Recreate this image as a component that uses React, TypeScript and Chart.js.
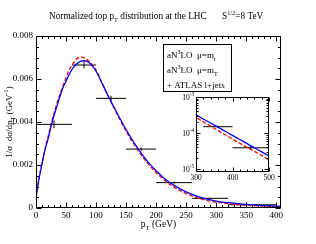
import React, { useEffect, useRef } from 'react';
import { Chart, registerables } from 'chart.js';
Chart.register(...registerables);

// ---------- data ----------
const pT = [0, 5, 10, 15, 20, 25, 30, 35, 40, 45, 50, 55, 60, 65, 70, 75, 80, 85, 90, 95, 100,
  110, 120, 130, 140, 150, 160, 170, 180, 190, 200, 210, 220, 230, 240, 250, 260, 270, 280, 290, 300,
  320, 340, 360, 380, 400, 420, 440, 460, 480, 500];
const blueMt = [0.0005, 0.00135, 0.00205, 0.0027, 0.0032, 0.0038, 0.0043, 0.00475, 0.0052, 0.0056, 0.0059,
  0.0062, 0.00645, 0.00663, 0.00675, 0.00683, 0.00685, 0.00682, 0.00672, 0.00656, 0.00636,
  0.0058, 0.00522, 0.00468, 0.00415, 0.00365, 0.00318, 0.00275, 0.00237, 0.00203, 0.00173,
  0.00147, 0.00124, 0.00105, 0.00089, 0.00075, 0.00063, 0.00053, 0.00045, 0.00038, 0.00032,
  0.000246, 0.00019, 0.000146, 0.000112, 0.000086, 0.000066, 0.000051, 0.000039, 0.00003, 0.000023];
const redMT = [0.0005, 0.0014, 0.0021, 0.00275, 0.0033, 0.0039, 0.0044, 0.0049, 0.0053, 0.0057, 0.00605,
  0.0064, 0.00665, 0.00685, 0.00698, 0.00702, 0.00698, 0.0069, 0.00678, 0.00662, 0.00642,
  0.00582, 0.00522, 0.00465, 0.0041, 0.00358, 0.0031, 0.00267, 0.00229, 0.00195, 0.00165,
  0.00139, 0.00116, 0.00097, 0.00081, 0.00067, 0.00056, 0.00046, 0.000385, 0.00032, 0.00027,
  0.000205, 0.000155, 0.000118, 0.00009, 0.000068, 0.000052, 0.00004, 0.000031, 0.000024, 0.000018];

const binLo = [0, 60, 100, 150, 200, 260, 320, 400];
const binHi = [60, 100, 150, 200, 260, 320, 400, 500];
const atlasVal = [0.00389, 0.00665, 0.0051, 0.00274, 0.00118, 0.00045, 0.00015, 0.000039];
const atlasErr = [0.00018, 0.00016, 0.00012, 0.00008, 0.00005, 0.00003, 0.00001, 0.000004];

const xTicks = [0, 50, 100, 150, 200, 250, 300, 350, 400];
const yTicks = [0, 0.002, 0.004, 0.006, 0.008];
const insetXTicks = [300, 400, 500];
const insetYTicks = [1e-3, 1e-4, 1e-5];
const insetYLabels = ['-3', '-4', '-5'];

const legendLabels = ['aN3LO μ=mt', 'aN3LO μ=mT', '+ ATLAS l+jets'];

// ---------- helpers ----------
const FONT = '"Liberation Serif", "Times New Roman", serif';
type Part = { t: string; k?: 'sub' | 'sup' };

function partFont(size: number, k?: string) {
  return `${k ? size * 0.68 : size}px ${FONT}`;
}
function richWidth(ctx: CanvasRenderingContext2D, parts: Part[], size: number) {
  let w = 0;
  for (const p of parts) { ctx.font = partFont(size, p.k); w += ctx.measureText(p.t).width; }
  return w;
}
function drawRich(ctx: CanvasRenderingContext2D, parts: Part[], x: number, y: number, size: number, align: 'left' | 'center' | 'right' = 'left') {
  const w = richWidth(ctx, parts, size);
  let cx = align === 'left' ? x : align === 'center' ? x - w / 2 : x - w;
  ctx.textBaseline = 'alphabetic';
  ctx.textAlign = 'left';
  for (const p of parts) {
    ctx.font = partFont(size, p.k);
    const dy = p.k === 'sub' ? size * 0.28 : p.k === 'sup' ? -size * 0.42 : 0;
    ctx.fillText(p.t, cx, y + dy);
    cx += ctx.measureText(p.t).width;
  }
}

function hBars(lo: number[], hi: number[], v: number[]) {
  const out: any[] = [];
  lo.forEach((l, i) => { out.push({ x: l, y: v[i] }, { x: hi[i], y: v[i] }, { x: hi[i], y: null }); });
  return out;
}
function vBars(lo: number[], hi: number[], v: number[], e: number[]) {
  const out: any[] = [];
  lo.forEach((l, i) => {
    const c = (l + hi[i]) / 2;
    out.push({ x: c, y: v[i] - e[i] }, { x: c, y: v[i] + e[i] }, { x: c, y: null });
  });
  return out;
}

function curveDatasets() {
  return [
    {
      data: pT.map((x, i) => ({ x, y: blueMt[i] })), borderColor: '#0000ff', borderWidth: 1.3,
      pointRadius: 0, fill: false, cubicInterpolationMode: 'monotone' as const,
    },
    {
      data: pT.map((x, i) => ({ x, y: redMT[i] })), borderColor: '#ff0000', borderWidth: 1.3,
      borderDash: [4, 2], pointRadius: 0, fill: false, cubicInterpolationMode: 'monotone' as const,
    },
  ];
}

const W = 316, H = 244;

export default function App() {
  const mainRef = useRef<HTMLCanvasElement>(null);
  const insetRef = useRef<HTMLCanvasElement>(null);

  useEffect(() => {
    const mainPlugin = {
      id: 'mainDecor',
      afterDraw(chart: any) {
        const ctx: CanvasRenderingContext2D = chart.ctx;
        const ca = chart.chartArea;
        const xs = chart.scales.x, ys = chart.scales.y;
        ctx.save();
        ctx.strokeStyle = '#000';
        ctx.lineWidth = 1;
        const L = Math.round(ca.left) + 0.5, R = Math.round(ca.right) - 0.5;
        const T = Math.round(ca.top) + 0.5, B = Math.round(ca.bottom) - 0.5;
        ctx.strokeRect(L, T, R - L, B - T);
        ctx.beginPath();
        for (let v = 0; v <= 400; v += 10) {
          const px = Math.round(xs.getPixelForValue(v)) + 0.5;
          const len = v % 50 === 0 ? 5 : 2.5;
          ctx.moveTo(px, B); ctx.lineTo(px, B - len);
          ctx.moveTo(px, T); ctx.lineTo(px, T + len);
        }
        for (let k = 0; k <= 16; k++) {
          const v = k * 0.0005;
          const py = Math.round(ys.getPixelForValue(v)) + 0.5;
          const len = k % 4 === 0 ? 5 : 2.5;
          ctx.moveTo(L, py); ctx.lineTo(L + len, py);
          ctx.moveTo(R, py); ctx.lineTo(R - len, py);
        }
        ctx.stroke();

        ctx.fillStyle = '#000';
        drawRich(ctx, [{ t: 'Normalized top p' }, { t: 'T', k: 'sub' }, { t: ' distribution at the LHC' }], 49, 19, 9.3, 'left');
        drawRich(ctx, [{ t: 'S' }, { t: '1/2', k: 'sup' }, { t: '=8 TeV' }], 222, 19, 9.3, 'left');
        drawRich(ctx, [{ t: 'p' }, { t: 'T', k: 'sub' }, { t: ' (GeV)' }], (ca.left + ca.right) / 2, 227, 9.5, 'center');
        ctx.save();
        ctx.translate(12, (ca.top + ca.bottom) / 2);
        ctx.rotate(-Math.PI / 2);
        drawRich(ctx, [{ t: '1/σ  dσ/dp' }, { t: 'T', k: 'sub' }, { t: ' (GeV' }, { t: '-1', k: 'sup' }, { t: ')' }], 0, 0, 9, 'center');
        ctx.restore();

        ctx.strokeRect(163.5, 44.5, 68, 47);
        const rows: Part[][] = [
          [{ t: 'aN' }, { t: '3', k: 'sup' }, { t: 'LO  μ=m' }, { t: 't', k: 'sub' }],
          [{ t: 'aN' }, { t: '3', k: 'sup' }, { t: 'LO  μ=m' }, { t: 'T', k: 'sub' }],
          [{ t: legendLabels[2] }],
        ];
        rows.forEach((r, i) => drawRich(ctx, r, 167, 58 + i * 15, 9, 'left'));
        ctx.restore();
      },
    };

    const main = new Chart(mainRef.current!, {
      type: 'line',
      data: {
        datasets: [
          ...curveDatasets(),
          { data: hBars(binLo, binHi, atlasVal), borderColor: '#000', borderWidth: 1, pointRadius: 0, spanGaps: false, tension: 0 },
          { data: vBars(binLo, binHi, atlasVal, atlasErr), borderColor: '#000', borderWidth: 1, pointRadius: 0, spanGaps: false, tension: 0 },
        ] as any,
      },
      options: {
        responsive: false,
        animation: false,
        devicePixelRatio: 1,
        events: [],
        layout: { padding: { left: 0, top: 36, right: 35, bottom: 0 } },
        plugins: { legend: { display: false }, tooltip: { enabled: false }, title: { display: false } },
        scales: {
          x: {
            type: 'linear', min: 0, max: 408,
            afterBuildTicks: (s: any) => { s.ticks = xTicks.map((v) => ({ value: v })); },
            afterFit: (s: any) => { s.height = 36; },
            grid: { display: false, drawTicks: false, tickLength: 0 }, border: { display: false },
            ticks: { color: '#000', font: { family: FONT, size: 9 }, padding: 2, maxRotation: 0, autoSkip: false },
          },
          y: {
            type: 'linear', min: 0, max: 0.008,
            afterBuildTicks: (s: any) => { s.ticks = yTicks.map((v) => ({ value: v })); },
            afterFit: (s: any) => { s.width = 36; },
            grid: { display: false, drawTicks: false, tickLength: 0 }, border: { display: false },
            ticks: {
              color: '#000', font: { family: FONT, size: 9 }, padding: 3, autoSkip: false,
              callback: (v: any) => (v === 0 ? '0' : Number(v).toFixed(3)),
            },
          },
        },
      } as any,
      plugins: [mainPlugin],
    });

    const insetPlugin = {
      id: 'insetDecor',
      afterDraw(chart: any) {
        const ctx: CanvasRenderingContext2D = chart.ctx;
        const ca = chart.chartArea;
        const xs = chart.scales.x, ys = chart.scales.y;
        ctx.save();
        ctx.strokeStyle = '#000';
        ctx.lineWidth = 1;
        const L = Math.round(ca.left) + 0.5, R = Math.round(ca.right) - 0.5;
        const T = Math.round(ca.top) + 0.5, B = Math.round(ca.bottom) - 0.5;
        ctx.strokeRect(L, T, R - L, B - T);
        ctx.beginPath();
        for (let v = 300; v <= 500; v += 20) {
          const px = Math.round(xs.getPixelForValue(v)) + 0.5;
          const len = v % 100 === 0 ? 4 : 2;
          ctx.moveTo(px, B); ctx.lineTo(px, B - len);
          ctx.moveTo(px, T); ctx.lineTo(px, T + len);
        }
        for (const d of [1e-6, 1e-5, 1e-4, 1e-3]) {
          for (let m = 1; m <= 9; m++) {
            const v = m * d;
            if (v < ys.min * 0.999 || v > ys.max * 1.001) continue;
            const py = Math.round(ys.getPixelForValue(v)) + 0.5;
            const len = m === 1 ? 4 : 2;
            ctx.moveTo(L, py); ctx.lineTo(L + len, py);
            ctx.moveTo(R, py); ctx.lineTo(R - len, py);
          }
        }
        ctx.stroke();
        ctx.fillStyle = '#000';
        ctx.font = `7.5px ${FONT}`;
        ctx.textAlign = 'center';
        ctx.textBaseline = 'top';
        insetXTicks.forEach((v) => ctx.fillText(String(v), xs.getPixelForValue(v), ca.bottom + 2));
        insetYTicks.forEach((v, i) => {
          drawRich(ctx, [{ t: '10' }, { t: insetYLabels[i], k: 'sup' }], ca.left - 2, ys.getPixelForValue(v) + 2.5, 7.5, 'right');
        });
        ctx.restore();
      },
    };

    const idx = binLo.map((l, i) => i).filter((i) => binLo[i] >= 300);
    const iLo = idx.map((i) => binLo[i]);
    const iHi = idx.map((i) => binHi[i]);
    const iVal = idx.map((i) => atlasVal[i]);
    const iErr = idx.map((i) => atlasErr[i]);
    const inset = new Chart(insetRef.current!, {
      type: 'line',
      data: {
        datasets: [
          ...curveDatasets(),
          { data: hBars(iLo, iHi, iVal), borderColor: '#000', borderWidth: 1, pointRadius: 0, spanGaps: false, tension: 0 },
          { data: vBars(iLo, iHi, iVal, iErr), borderColor: '#000', borderWidth: 1, pointRadius: 0, spanGaps: false, tension: 0 },
        ] as any,
      },
      options: {
        responsive: false,
        animation: false,
        devicePixelRatio: 1,
        events: [],
        layout: { padding: { left: 196, top: 97, right: 47, bottom: 72 } },
        plugins: { legend: { display: false }, tooltip: { enabled: false }, title: { display: false } },
        scales: {
          x: { type: 'linear', min: 300, max: 500, display: false },
          y: { type: 'logarithmic', min: 8.3e-6, max: 1e-3, display: false },
        },
      } as any,
      plugins: [insetPlugin],
    });

    return () => { main.destroy(); inset.destroy(); };
  }, []);

  return (
    <div style={{ position: 'fixed', left: 0, top: 0, width: W, height: H, background: '#fff' }}>
      <canvas ref={mainRef} width={W} height={H} style={{ position: 'absolute', left: 0, top: 0, width: W, height: H }} />
      <canvas ref={insetRef} width={W} height={H} style={{ position: 'absolute', left: 0, top: 0, width: W, height: H }} />
    </div>
  );
}
